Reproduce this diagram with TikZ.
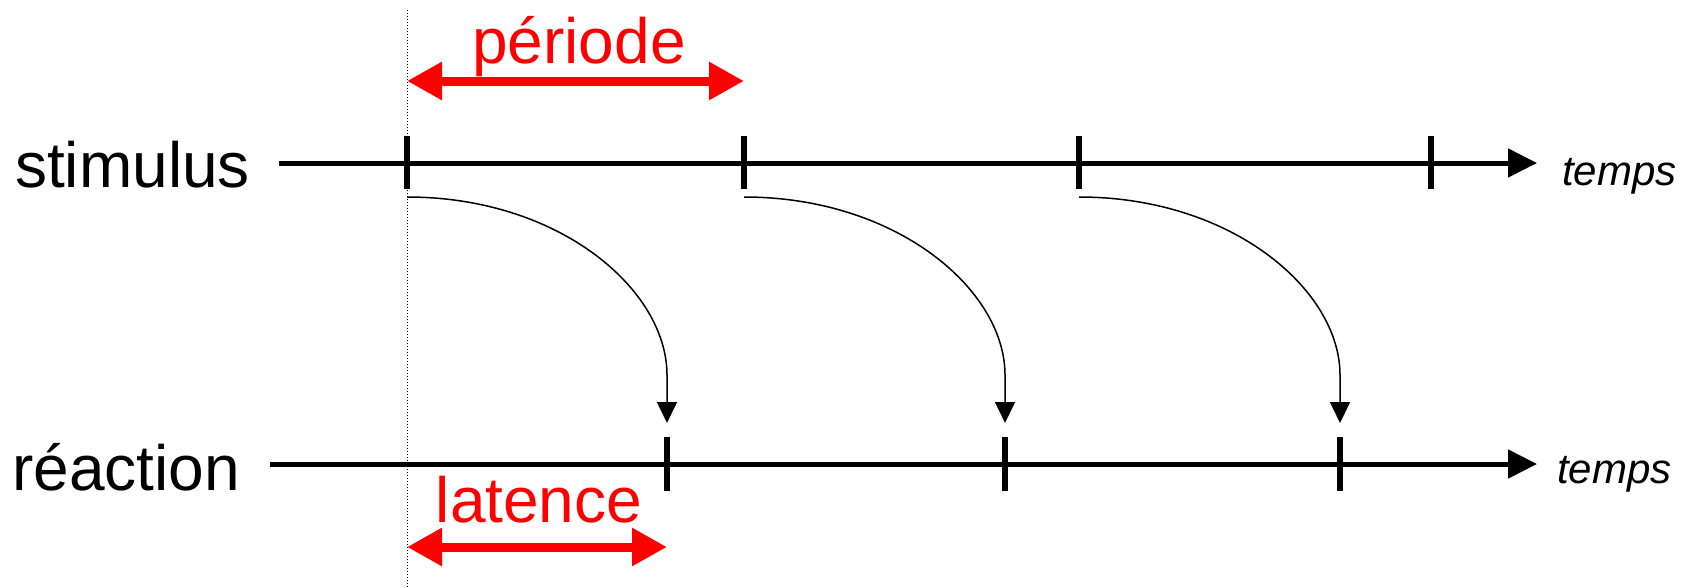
\documentclass[tikz,border=0pt]{standalone}
\usepackage{fontspec}
\setmainfont{Liberation Sans}
\usetikzlibrary{arrows.meta}
\begin{document}
\begin{tikzpicture}[x=1pt,y=-1pt,
  axis/.style={line width=5pt,-{Triangle[length=29pt,width=28pt]}},
  tick/.style={line width=6pt},
  react/.style={line width=1.5pt,-{Triangle[length=21pt,width=20pt]}},
  span/.style={red,line width=9pt,{Triangle[length=35pt,width=36pt]}-{Triangle[length=35pt,width=36pt]}},
  big/.style={inner sep=0pt,font=\fontsize{64}{70}\selectfont},
  small/.style={inner sep=0pt,font=\fontsize{42}{48}\selectfont\itshape},
  redlab/.style={big,text=red}]
\useasboundingbox (0,0) rectangle (1696,587);
% dotted reference line
\coordinate (dtop) at (407,10);
\coordinate (dbot) at (407,587);
\draw[dotted,line width=1pt] (dtop) -- (dbot);
% labels
\node[big,anchor=base west] (stim) at (15,187) {stimulus};
\node[big,anchor=base west] (reac) at (12,490) {réaction};
\node[small,anchor=base west] (t1) at (1562,185) {temps};
\node[small,anchor=base west] (t2) at (1557,483) {temps};
% axes
\coordinate (sa) at (279,163);
\coordinate (sb) at (1537,163);
\coordinate (ra) at (270,464);
\coordinate (rb) at (1537,464);
\draw[axis] (sa) -- (sb);
\draw[axis] (ra) -- (rb);
% ticks
\foreach \i/\x in {1/407,2/744,3/1079,4/1431}{
  \coordinate (s\i t) at (\x,136);
  \coordinate (s\i b) at (\x,189);
  \draw[tick] (s\i t) -- (s\i b);
}
\foreach \i/\x in {1/667,2/1005,3/1340}{
  \coordinate (r\i t) at (\x,437);
  \coordinate (r\i b) at (\x,491);
  \draw[tick] (r\i t) -- (r\i b);
}
% reaction curves
\foreach \i/\a/\b in {1/407/667,2/744/1005,3/1079/1340}{
  \coordinate (c\i s) at (\a,197);
  \coordinate (c\i m) at (\b,375);
  \coordinate (c\i e) at (\b,423);
  \draw[react] (c\i s) .. controls (\a+153,197) and (\b,290) .. (c\i m) -- (c\i e);
}
% period and latency
\coordinate (pa) at (407,81);
\coordinate (pb) at (744,81);
\draw[span] (pa) -- (pb);
\node[redlab,anchor=base] (per) at (579,63) {période};
\coordinate (la) at (407,547);
\coordinate (lb) at (667,547);
\draw[span] (la) -- (lb);
\node[redlab,anchor=base] (lat) at (539,522) {latence};
\end{tikzpicture}
\end{document}
